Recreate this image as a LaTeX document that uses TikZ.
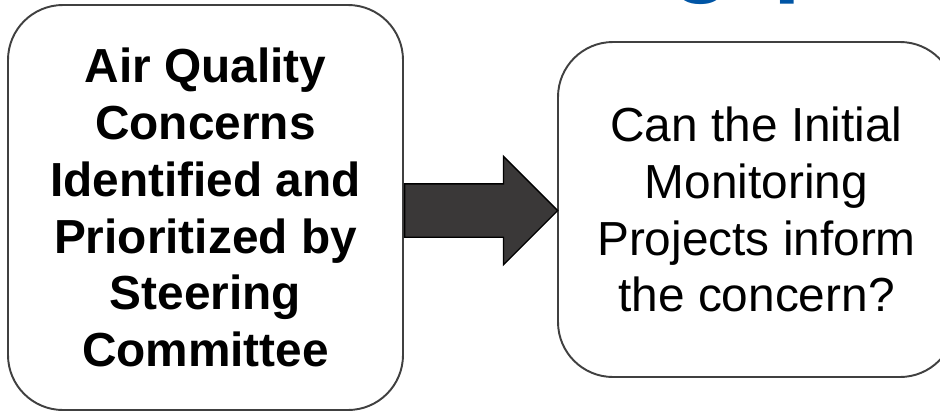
\documentclass[tikz,border=0pt]{standalone}
\usepackage{fontspec}
\setmainfont{Liberation Sans}
\usetikzlibrary{positioning,calc,shapes.arrows}
\definecolor{boxgray}{HTML}{404040}
\definecolor{arrowfill}{HTML}{3A3838}
\definecolor{titleblue}{HTML}{0055A5}

\begin{document}
\begin{tikzpicture}[
    font=\rmfamily,
    concern/.style={draw=boxgray, fill=white, line width=1.1pt,
                    rounded corners=1.1cm, minimum width=7.9cm,
                    minimum height=8.1cm, align=center, inner sep=2pt,
                    font=\fontsize{27.2}{32.4}\selectfont\bfseries},
    question/.style={draw=boxgray, fill=white, line width=1.1pt,
                     rounded corners=1.1cm, minimum width=7.94cm,
                     minimum height=6.7cm, align=center, inner sep=2pt,
                     font=\fontsize{27.2}{32.4}\selectfont},
    bigarrow/.style={single arrow, draw=black, fill=arrowfill, line width=0.8pt,
                     minimum width=2.14cm, single arrow head extend=0.55cm,
                     single arrow tip angle=90, inner xsep=0pt, inner ysep=0.52cm},
  ]
  \useasboundingbox (0,0) rectangle (18.8,8.3);

  % Cut-off title above the boxes.
  \node[anchor=base west, text=titleblue, inner sep=0pt,
        font=\fontsize{56.7}{60}\selectfont\bfseries] (title) at (13.42,8.64) {g\hspace{0.28cm} p};

  % The two steps.
  \node[concern] (aqc) at (4.11,4.15)
    {Air Quality\\Concerns\\Identified and\\Prioritized by\\Steering\\Committee};
  \node[question] (imp) at (15.13,4.11)
    {Can the Initial\\Monitoring\\Projects inform\\the concern?};

  % Block arrow between them.
  \path let \p1=(aqc.east), \p2=(imp.west), \n1={veclen(\x2-\x1,0)} in
    node[bigarrow, minimum height=\n1, anchor=tail] (step) at ($(aqc.east)+(0,-0.06)$) {};
\end{tikzpicture}
\end{document}
